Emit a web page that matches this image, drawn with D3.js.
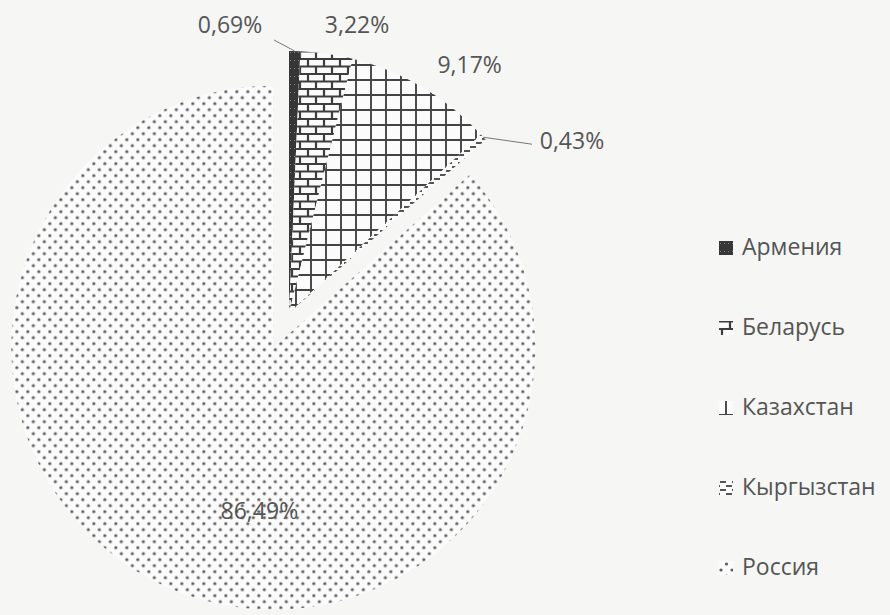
<!DOCTYPE html>
<html>
<head>
<meta charset="utf-8">
<script src="https://cdn.jsdelivr.net/npm/d3@7"></script>
<style>
  body { margin: 0; background: #f6f6f5; }
  text { font-family: "Open Sans", "DejaVu Sans", sans-serif; fill: #555; }
</style>
</head>
<body>
<div id="pie"></div>
<script>
// data
const countries = ["Армения", "Беларусь", "Казахстан", "Кыргызстан", "Россия"];
const shares = [0.69, 3.22, 9.17, 0.43, 86.49];
const shareLabels = ["0,69%", "3,22%", "9,17%", "0,43%", "86,49%"];
const patterns = ["solid", "brick", "grid", "dash", "dots"];

const width = 890, height = 615;
const center = { x: 289, y: 313 };
const radius = 262;
const explode = [0, 0, 0, 0, 38];

// label placement: radius from slice centre and angle shift from bisector
const labelPlace = [
  { r: 292, da: -0.225, leader: true },
  { r: 294, da: 0.089 },
  { r: 305, da: 0.10 },
  { r: 330, da: 0.195, leader: true },
  { r: 166, da: -0.34 }
];

const svg = d3.select("#pie")
  .append("svg")
    .attr("width", width)
    .attr("height", height);

const defs = svg.append("defs");

// fill patterns imitating the print
const pSolid = defs.append("pattern")
    .attr("id", "p-solid").attr("patternUnits", "userSpaceOnUse")
    .attr("width", 4).attr("height", 8);
pSolid.append("rect").attr("width", 4).attr("height", 8).attr("fill", "#363636");
pSolid.append("rect").attr("x", 1).attr("y", 3).attr("width", 1).attr("height", 1).attr("fill", "#888");

const pBrick = defs.append("pattern")
    .attr("id", "p-brick").attr("patternUnits", "userSpaceOnUse")
    .attr("width", 16).attr("height", 15);
pBrick.append("rect").attr("width", 16).attr("height", 15).attr("fill", "#fbfbfb");
pBrick.append("path")
    .attr("d", "M0,1H16M0,8.5H16M3,1V8.5M11,8.5V15")
    .attr("stroke", "#3d3d3d").attr("stroke-width", 2.2).attr("fill", "none");

const pGrid = defs.append("pattern")
    .attr("id", "p-grid").attr("patternUnits", "userSpaceOnUse")
    .attr("width", 15).attr("height", 15);
pGrid.append("rect").attr("width", 15).attr("height", 15).attr("fill", "#fbfbfb");
pGrid.append("path")
    .attr("d", "M0,7H15M7,0V15")
    .attr("stroke", "#444").attr("stroke-width", 1.9).attr("fill", "none");

const pDash = defs.append("pattern")
    .attr("id", "p-dash").attr("patternUnits", "userSpaceOnUse")
    .attr("width", 12).attr("height", 8);
pDash.append("rect").attr("width", 12).attr("height", 8).attr("fill", "#fbfbfb");
pDash.append("path")
    .attr("d", "M1,2H7M7,6H12M0,6H1")
    .attr("stroke", "#555").attr("stroke-width", 1.8).attr("fill", "none");

const pDots = defs.append("pattern")
    .attr("id", "p-dots").attr("patternUnits", "userSpaceOnUse")
    .attr("width", 11).attr("height", 12);
pDots.append("rect").attr("width", 11).attr("height", 12).attr("fill", "#fbfbfb");
pDots.append("circle").attr("cx", 2).attr("cy", 2).attr("r", 1.6).attr("fill", "#5c5c5c");
pDots.append("circle").attr("cx", 7.5).attr("cy", 8).attr("r", 1.6).attr("fill", "#5c5c5c");

const pieData = countries.map((c, i) => ({ country: c, share: shares[i], i: i }));

const pieGenerator = d3.pie()
  .value(d => d.share)
  .sort(null);

const arcsData = pieGenerator(pieData);

const arcGenerator = d3.arc()
  .innerRadius(0)
  .outerRadius(radius);

const polar = (a, r) => [r * Math.sin(a), -r * Math.cos(a)];

const pieContainer = svg
  .append("g")
    .attr("transform", `translate(${center.x}, ${center.y})`);

const slices = pieContainer
  .selectAll("g.slice")
  .data(arcsData)
  .join("g")
    .attr("class", "slice")
    .attr("transform", d => {
      const mid = (d.startAngle + d.endAngle) / 2;
      const [dx, dy] = polar(mid, explode[d.data.i]);
      return `translate(${dx}, ${dy})`;
    });

slices
  .append("path")
    .attr("d", arcGenerator)
    .attr("fill", d => `url(#p-${patterns[d.data.i]})`);

// percentage labels
slices.each(function(d) {
  const i = d.data.i;
  const mid = (d.startAngle + d.endAngle) / 2;
  const place = labelPlace[i];
  const [lx, ly] = polar(mid + place.da, place.r);
  const g = d3.select(this);
  if (place.leader) {
    const [ox, oy] = polar(mid, radius);
    const ex = lx < ox ? lx + 44 : lx - 40;
    const ey = lx < ox ? ly + 13 : ly + 1;
    g.append("path")
      .attr("d", `M${ex},${ey}L${ox},${oy}`)
      .attr("stroke", "#777")
      .attr("stroke-width", 1)
      .attr("fill", "none");
  }
  g.append("text")
    .text(shareLabels[i])
    .attr("x", lx)
    .attr("y", ly)
    .attr("text-anchor", "middle")
    .attr("dominant-baseline", "middle")
    .style("font-size", "23px");
});

// legend
const legendY = d3.scalePoint()
  .domain(countries)
  .range([248, 568]);

const legend = svg
  .append("g")
    .attr("transform", "translate(719, 0)");

const items = legend
  .selectAll("g.item")
  .data(countries)
  .join("g")
    .attr("class", "item")
    .attr("transform", d => `translate(0, ${legendY(d)})`);

items
  .append("rect")
    .attr("x", 0)
    .attr("y", -7)
    .attr("width", 14)
    .attr("height", 14)
    .attr("fill", (d, i) => `url(#p-${patterns[i]})`);

items
  .append("text")
    .text(d => d)
    .attr("x", 23)
    .attr("y", 1)
    .attr("dominant-baseline", "middle")
    .style("font-size", "23px");
</script>
</body>
</html>
